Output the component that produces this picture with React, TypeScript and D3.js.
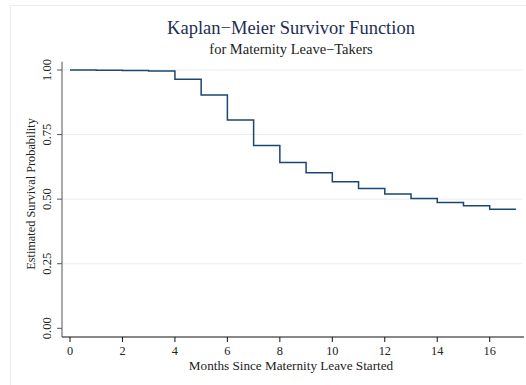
import React from "react";
import * as d3 from "d3";

const months = [0, 1, 2, 3, 4, 5, 6, 7, 8, 9, 10, 11, 12, 13, 14, 15, 16, 17];
const survival = [1.0, 0.999, 0.998, 0.996, 0.964, 0.903, 0.806, 0.708, 0.642, 0.602, 0.567, 0.541, 0.52, 0.503, 0.487, 0.474, 0.461, 0.461];
const xTicks = [0, 2, 4, 6, 8, 10, 12, 14, 16];
const yTicks = [0, 0.25, 0.5, 0.75, 1.0];
const yTickLabels = ["0.00", "0.25", "0.50", "0.75", "1.00"];
const gridTicks = [0.25, 0.5, 0.75, 1.0];

const title = "Kaplan\u2212Meier Survivor Function";
const subtitle = "for Maternity Leave\u2212Takers";
const xTitle = "Months Since Maternity Leave Started";
const yTitle = "Estimated Survival Probability";

export default function App() {
  const W = 526, H = 385;
  const x = d3.scaleLinear().domain([0, 16]).range([70, 489.7]);
  const y = d3.scaleLinear().domain([0, 1]).range([328.3, 70]);
  const axisX = 62;
  const axisY = 337;
  const top = 61.7;
  const right = 524;
  const font = "'Liberation Serif', 'Times New Roman', serif";
  const pts: [number, number][] = months.map((m, i) => [m, survival[i]]);
  const line = d3.line<[number, number]>()
    .x(d => x(d[0]))
    .y(d => y(d[1]))
    .curve(d3.curveStepAfter);

  return (
    <svg width={W} height={H} style={{ position: "absolute", left: 0, top: 0, background: "#fff" }} fontFamily={font}>
      <rect x={10.5} y={5.5} width={700} height={700} fill="#fff" stroke="#e6eff1" strokeWidth={1} />
      {gridTicks.map(t => (
        <line key={t} x1={axisX} x2={522} y1={y(t)} y2={y(t)} stroke="#e6eff1" strokeWidth={1} />
      ))}
      <path d={line(pts) || ""} fill="none" stroke="#1a476f" strokeWidth={1.5} />
      {/* y axis */}
      <line x1={axisX} x2={axisX} y1={top} y2={axisY} stroke="#555" strokeWidth={1} />
      {yTicks.map((t, i) => (
        <g key={t}>
          <line x1={axisX - 5} x2={axisX} y1={y(t)} y2={y(t)} stroke="#555" strokeWidth={1} />
          <text transform={`translate(51,${y(t)}) rotate(-90)`} textAnchor="middle" fontSize={12.5} fill="#222">{yTickLabels[i]}</text>
        </g>
      ))}
      {/* x axis */}
      <line x1={axisX} x2={right} y1={axisY} y2={axisY} stroke="#111" strokeWidth={1} />
      {xTicks.map(t => (
        <g key={t}>
          <line x1={x(t)} x2={x(t)} y1={axisY} y2={axisY + 5} stroke="#111" strokeWidth={1} />
          <text x={x(t)} y={355} textAnchor="middle" fontSize={12.3} fill="#222">{t}</text>
        </g>
      ))}
      <text x={291} y={370} textAnchor="middle" fontSize={13.2} fill="#222">{xTitle}</text>
      <text transform={`translate(35,194) rotate(-90)`} textAnchor="middle" fontSize={12.3} fill="#222">{yTitle}</text>
      <text x={291} y={34.3} textAnchor="middle" fontSize={18.5} fill="#1e2d53">{title}</text>
      <text x={291} y={54} textAnchor="middle" fontSize={14.5} fill="#222">{subtitle}</text>
    </svg>
  );
}
